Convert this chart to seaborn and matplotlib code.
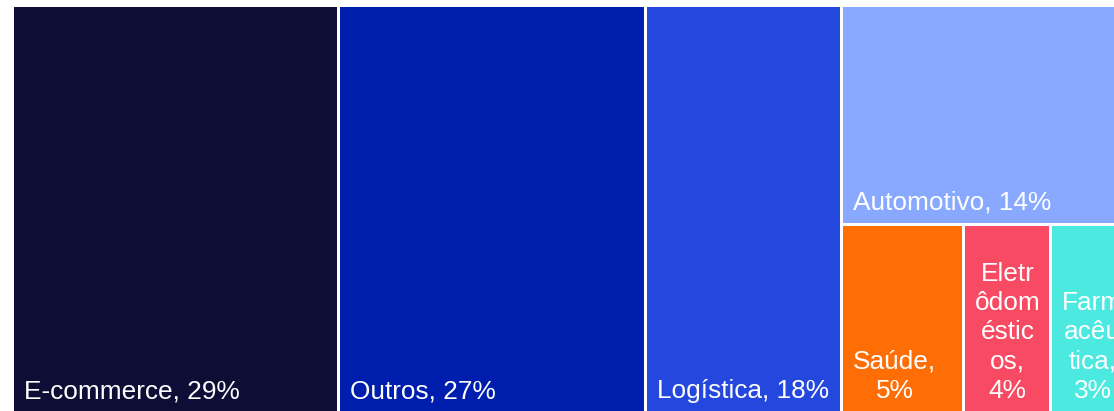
import matplotlib
matplotlib.use("Agg")
import matplotlib.pyplot as plt
from matplotlib.patches import Rectangle
import seaborn as sns

# dados do treemap (participação por setor, %)
setores = ["E-commerce", "Outros", "Logística", "Automotivo",
           "Saúde", "Eletrodomésticos", "Farmacêutica"]
valores = [29.1, 27.4, 17.5, 14, 5, 3.6, 3.4]
# rótulos quebrados como aparecem nas células estreitas
rotulos = ["E-commerce,", "Outros,", "Logística,", "Automotivo,",
           "Saúde,\n", "Eletr\nôdom\néstic\nos,\n", "Farm\nacêu\ntica,\n"]
cores = ["#0E0D35", "#001EAE", "#2447DD", "#88A9FF",
         "#FF6D05", "#F94A63", "#4BE9DF"]

sns.set_theme(style="white")
plt.rcParams['font.family'] = ['Liberation Sans', 'DejaVu Sans']

fig = plt.figure(figsize=(11.14, 4.11), dpi=100)
ax = fig.add_axes([0, 0, 1, 1])
ax.set_xlim(0, 1114)
ax.set_ylim(411, 0)
ax.axis('off')

# zone du treemap (en pixels, dépasse un peu la figure à droite et en bas)
X0, Y0, W, H = 12.5, 5.5, 1120.5, 407.5
GAP = 1.5
FS = 18.9

total = sum(valores)


def cellule(i, x, y, w, h):
    ax.add_patch(Rectangle((x + GAP, y + GAP), w - 2 * GAP, h - 2 * GAP,
                           facecolor=cores[i], edgecolor='none'))
    pct = f"{valores[i]:.0f}%"
    if rotulos[i].endswith("\n"):
        txt = rotulos[i] + pct
    else:
        txt = rotulos[i] + " " + pct
    ax.text(x + GAP + 10, y + h - GAP - 8.5, txt, color='white', fontsize=FS,
            ha='left', va='bottom', multialignment='center', linespacing=1.28)


# trois premières colonnes
x = X0
for i in range(3):
    w = W * valores[i] / total
    cellule(i, x, Y0, w, H)
    x += w

# dernière colonne : Automotivo en haut, le reste en ligne en dessous
reste = sum(valores[3:])
wc = W * reste / total
ha = H * valores[3] / reste
cellule(3, x, Y0, wc, ha)
bas = sum(valores[4:])
xx = x
for i in range(4, len(valores)):
    w = wc * valores[i] / bas
    cellule(i, xx, Y0 + ha, w, H - ha)
    xx += w

fig.savefig("out.png", dpi=100)
